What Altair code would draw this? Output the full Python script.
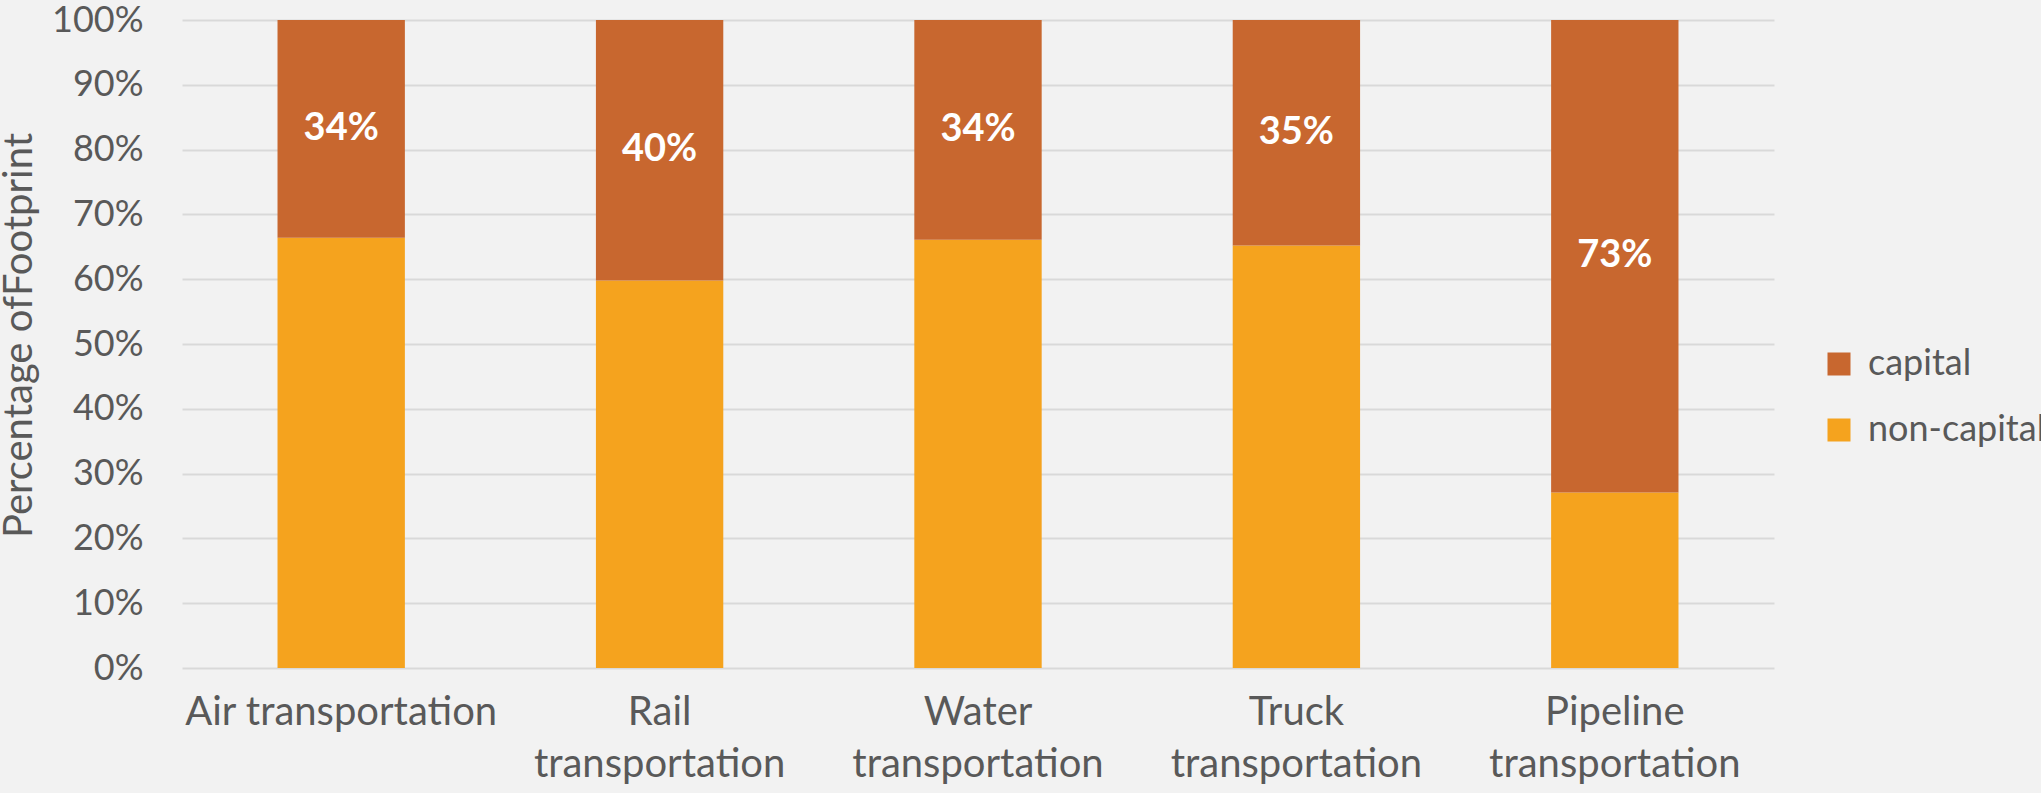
import altair as alt
import pandas as pd

categories = ["Air transportation", "Rail transportation", "Water transportation",
              "Truck transportation", "Pipeline transportation"]
non_capital = [0.664, 0.598, 0.661, 0.652, 0.271]
capital = [0.336, 0.402, 0.339, 0.348, 0.729]
capital_labels = ["34%", "40%", "34%", "35%", "73%"]
series = ["capital", "non-capital"]
colors = ["#C8672F", "#F5A31E"]

rows = []
for c, nc, cp in zip(categories, non_capital, capital):
    rows.append({"cat": c, "series": "non-capital", "value": nc, "ord": 0})
    rows.append({"cat": c, "series": "capital", "value": cp, "ord": 1})
df = pd.DataFrame(rows)

lab = pd.DataFrame({
    "cat": categories,
    "mid": [nc + cp / 2 for nc, cp in zip(non_capital, capital)],
    "text": capital_labels,
})

FONT = "Lato"
TXT = "#595959"

x = alt.X("cat:N", sort=categories, title=None,
          scale=alt.Scale(paddingInner=0.6, paddingOuter=0.3),
          axis=alt.Axis(labelAngle=0, labelFont=FONT, labelFontSize=40, labelColor=TXT,
                        labelPadding=24, labelLineHeight=52, labelBaseline="top",
                        labelLimit=500, labelOverlap=False,
                        ticks=False, domain=False, grid=False,
                        labelExpr="datum.label == 'Air transportation' ? datum.label : split(datum.label, ' ')"))

bars = alt.Chart(df).mark_bar().encode(
    x=x,
    y=alt.Y("value:Q", stack="zero",
            scale=alt.Scale(domain=[0, 1], nice=False),
            axis=alt.Axis(format=".0%", values=[i / 10 for i in range(11)],
                          title="Percentage ofFootprint", titleFont=FONT, titleFontSize=40,
                          titleFontWeight="normal", titleColor=TXT,
                          titleX=-163, titleY=315, titleAngle=270,
                          titleAlign="center", titleBaseline="middle",
                          labelFont=FONT, labelFontSize=36, labelColor=TXT, labelPadding=39,
                          ticks=False, domain=False, gridColor="#D9D9D9", gridWidth=2)),
    color=alt.Color("series:N", scale=alt.Scale(domain=series, range=colors),
                    legend=alt.Legend(title=None, orient="none", legendX=1639, legendY=326,
                                      symbolType="square", symbolSize=529, symbolStrokeWidth=0,
                                      labelFont=FONT, labelFontSize=36, labelColor=TXT,
                                      labelOffset=11, rowPadding=30, labelLimit=400)),
    order=alt.Order("ord:Q"),
)

texts = alt.Chart(lab).mark_text(font=FONT, fontSize=38, fontWeight="bold", color="white",
                                 baseline="middle", align="center").encode(
    x=alt.X("cat:N", sort=categories),
    y=alt.Y("mid:Q"),
    text="text:N",
)

chart = alt.layer(bars, texts).properties(
    width=1592, height=648,
    background="#F2F2F2",
    autosize=alt.AutoSizeParams(type="none"),
    padding={"left": 182, "top": 20, "right": 267, "bottom": 125},
).configure_view(stroke=None)

chart.save("out.html", embed_options={"renderer": "svg", "actions": False})
